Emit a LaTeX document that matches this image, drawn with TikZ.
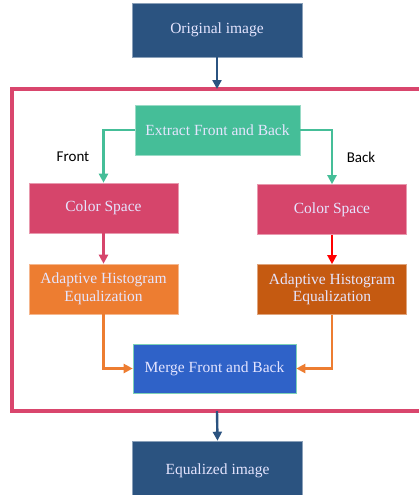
\documentclass[tikz,border=0pt]{standalone}
\usepackage{fontspec}
\setmainfont{Liberation Serif}
\newfontfamily\labelfont{Carlito}
\usetikzlibrary{arrows.meta}
\definecolor{navy}{HTML}{2B5380}
\definecolor{mint}{HTML}{45BE98}
\definecolor{rose}{HTML}{D6456B}
\definecolor{tangerine}{HTML}{ED7D31}
\definecolor{rust}{HTML}{C55A11}
\definecolor{royal}{HTML}{2F62C8}
\definecolor{framered}{HTML}{D9466D}

\begin{document}
\begin{tikzpicture}[x=1pt,y=-1pt,
    box/.style={rectangle,draw=#1!55!white,line width=0.6pt,fill=#1,text=white!90!blue,
      font=\fontsize{15.5}{17.5}\selectfont,align=center,
      minimum width=149pt,minimum height=50pt,inner sep=2pt},
    link/.style={line width=2.4pt,draw=#1,-{Triangle[length=9pt,width=9pt]}},
    side/.style={font=\labelfont\fontsize{15}{17}\selectfont}]
  \useasboundingbox (0,0) rectangle (419,495);
  \clip (0,0) rectangle (419,495);

  % outer frame
  \draw[framered,line width=3.5pt] (12,89) rectangle (440,411);
  \coordinate (ftop) at (217,89);
  \coordinate (fbot) at (217,411);

  \node[box=navy,minimum width=170pt,minimum height=54pt] (orig) at (217,30) {Original image};
  \node[box=mint,minimum width=165pt] (extract) at (217.5,130) {Extract Front and Back};
  \node[box=rose] (csfront) at (103.5,208) {Color Space};
  \node[box=rose] (csback) at (332,209.5) {Color Space};
  \node[box=tangerine] (ahefront) at (103.5,289) {Adaptive Histogram\\Equalization};
  \node[box=rust] (aheback) at (332,289.5) {Adaptive Histogram\\Equalization};
  \node[box=royal,draw=mint!70!white,minimum width=163pt,minimum height=49pt] (merge) at (214.5,368.5) {Merge Front and Back};
  \node[box=navy,minimum width=170pt,minimum height=60pt] (equal) at (217.5,471) {Equalized image};

  \node[side] (frontlbl) at (73,157) {Front};
  \node[side] (backlbl) at (361,157) {Back};

  \draw[link=navy] (orig.south) -- (ftop);
  \draw[link=mint] (extract.west) -| (csfront.north);
  \draw[link=mint] (extract.east) -| (csback.north);
  \draw[link=rose] (csfront.south) -- (ahefront.north);
  \draw[link=red] (csback.south) -- (aheback.north);
  \draw[link=tangerine] (ahefront.south) |- (merge.west);
  \draw[link=tangerine] (aheback.south) |- (merge.east);
  \draw[link=navy] (fbot) -- (equal.north);
\end{tikzpicture}
\end{document}
